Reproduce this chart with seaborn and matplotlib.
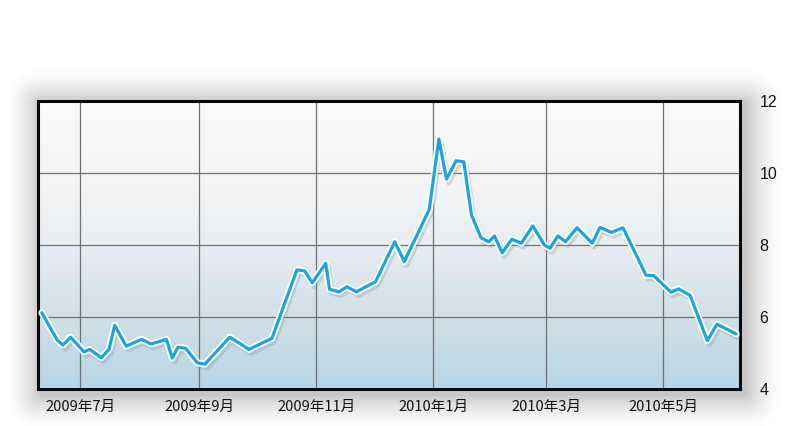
import numpy as np
import pandas as pd
import matplotlib
matplotlib.use("Agg")
import matplotlib.pyplot as plt
import matplotlib.patheffects as pe
from matplotlib.colors import LinearSegmentedColormap
from matplotlib.patches import FancyBboxPatch
import seaborn as sns

dates = [
    "2009-06-11", "2009-06-19", "2009-06-22", "2009-06-26", "2009-07-03", "2009-07-06",
    "2009-07-12", "2009-07-16", "2009-07-19", "2009-07-25", "2009-08-02", "2009-08-07",
    "2009-08-15", "2009-08-18", "2009-08-21", "2009-08-25", "2009-08-31", "2009-09-04",
    "2009-09-17", "2009-09-27", "2009-10-09", "2009-10-22", "2009-10-26", "2009-10-30",
    "2009-11-06", "2009-11-08", "2009-11-13", "2009-11-17", "2009-11-22", "2009-12-02",
    "2009-12-12", "2009-12-17", "2009-12-30", "2010-01-04", "2010-01-08", "2010-01-13",
    "2010-01-17", "2010-01-21", "2010-01-26", "2010-01-30", "2010-02-02", "2010-02-06",
    "2010-02-11", "2010-02-16", "2010-02-22", "2010-02-28", "2010-03-03", "2010-03-07",
    "2010-03-11", "2010-03-17", "2010-03-25", "2010-03-29", "2010-04-04", "2010-04-10",
    "2010-04-22", "2010-04-26", "2010-05-05", "2010-05-09", "2010-05-15", "2010-05-24",
    "2010-05-29", "2010-06-08",
]
values = [
    6.12, 5.36, 5.22, 5.44, 5.03, 5.10,
    4.87, 5.10, 5.77, 5.19, 5.38, 5.25,
    5.38, 4.86, 5.16, 5.13, 4.73, 4.69,
    5.44, 5.10, 5.41, 7.31, 7.28, 6.95,
    7.49, 6.77, 6.70, 6.84, 6.70, 6.98,
    8.09, 7.54, 8.99, 10.94, 9.83, 10.34,
    10.31, 8.83, 8.20, 8.09, 8.25, 7.78,
    8.16, 8.05, 8.53, 8.00, 7.91, 8.25,
    8.09, 8.48, 8.05, 8.49, 8.35, 8.48,
    7.16, 7.15, 6.69, 6.78, 6.60, 5.34,
    5.80, 5.53,
]
tick_dates = ["2009-07-01", "2009-09-01", "2009-11-01", "2010-01-01", "2010-03-01", "2010-05-01"]
tick_labels = ["2009年7月", "2009年9月", "2009年11月", "2010年1月", "2010年3月", "2010年5月"]
y_ticks = [4, 6, 8, 10, 12]

df = pd.DataFrame({"date": pd.to_datetime(dates), "value": values})

sns.set_theme(style="white")
plt.rcParams["font.family"] = ["Noto Sans CJK SC", "DejaVu Sans"]

fig = plt.figure(figsize=(8.0, 4.26), dpi=100)
fig.patch.set_facecolor("white")
ax = fig.add_axes([38 / 800, 1 - 389 / 426, (740 - 38) / 800, (389 - 101) / 426])
ax.set_zorder(5)

# soft drop shadow around the frame (behind the axes)
for i, a in enumerate(np.linspace(0.03, 0.006, 12)):
    d = (i + 1) * 3.0
    sh = FancyBboxPatch((38 - d + 4, 426 - 389 - d - 4), 702 + 2 * d, 288 + 2 * d,
                        boxstyle="round,pad=0,rounding_size=%g" % d,
                        transform=None, facecolor="#000000", edgecolor="none",
                        alpha=a, zorder=0)
    fig.patches.append(sh)

# gradient background
cmap = LinearSegmentedColormap.from_list(
    "bg", [(0.0, "#b8d6e6"), (0.25, "#d0dfe8"), (0.5, "#e8edf1"), (0.7, "#f3f4f5"), (1.0, "#fafafa")])
grad = np.linspace(0, 1, 256).reshape(-1, 1)
ax.imshow(grad, aspect="auto", cmap=cmap, origin="lower",
          extent=[0, 1, 0, 1], transform=ax.transAxes, zorder=0)

sns.lineplot(data=df, x="date", y="value", ax=ax, color="#18a5e4", linewidth=2.3, zorder=5,
             path_effects=[pe.SimpleLineShadow(offset=(1.5, -2.5), shadow_color="#7f8f9a", alpha=0.3, linewidth=4),
                           pe.Stroke(linewidth=5, foreground="white"), pe.Normal()])

ax.set_xlim(pd.Timestamp("2009-06-09"), pd.Timestamp("2010-06-10"))
ax.set_ylim(4, 12)
ax.set_xticks(pd.to_datetime(tick_dates))
ax.set_xticklabels(tick_labels, fontsize=10.5, color="#111111")
ax.set_yticks(y_ticks)
ax.set_yticklabels([str(v) for v in y_ticks], fontsize=11.5, color="#111111", family="Liberation Sans")
ax.yaxis.tick_right()
ax.tick_params(axis="y", length=0, pad=14)
ax.tick_params(axis="x", length=0, pad=8)
ax.set_xlabel("")
ax.set_ylabel("")
ax.grid(True, color="#707070", linewidth=0.9, zorder=1)
ax.set_axisbelow(True)
for s in ax.spines.values():
    s.set_visible(True)
    s.set_color("#0a0a0a")
    s.set_linewidth(2.2)
ax.set_facecolor("none")

fig.savefig("out.png", dpi=100, facecolor="white")
